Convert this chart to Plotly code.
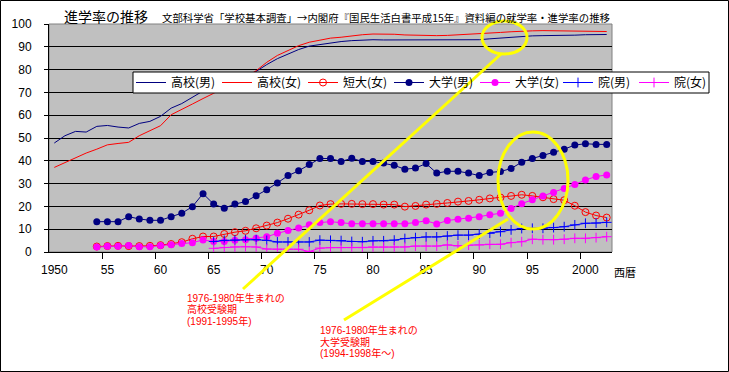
import plotly.graph_objects as go

YEARS = list(range(1950, 2003))
TICK_YEARS = [1950, 1955, 1960, 1965, 1970, 1975, 1980, 1985, 1990, 1995, 2000]
TICK_TEXT = ["1950", "55", "60", "65", "70", "75", "80", "85", "90", "95", "2000"]
NAMES = ["高校(男)", "高校(女)", "短大(女)", "大学(男)", "大学(女)", "院(男)", "院(女)"]

HS_MALE = [47.8, 51.0, 52.9, 52.6, 55.1, 55.5, 54.8, 54.4, 56.4, 57.3,
           59.5, 63.1, 65.1, 68.0, 70.6, 71.7, 73.5, 75.3, 77.0, 79.2,
           82.2, 84.8, 86.9, 88.8, 90.3, 91.0, 91.7, 92.3, 92.7, 93.0,
           93.1, 93.0, 93.0, 93.0, 92.9, 92.9, 92.9, 92.9, 92.9, 93.0,
           93.1, 93.5, 93.9, 94.3, 94.6, 94.8, 94.9, 94.9, 95.0, 95.1,
           95.3, 95.4, 95.4]
HS_FEMALE = [37.1, 39.3, 41.5, 43.4, 45.1, 47.0, 47.6, 48.1, 51.0, 53.2,
             55.4, 60.2, 62.4, 64.9, 67.3, 69.6, 72.3, 74.5, 76.7, 79.5,
             83.2, 86.2, 88.5, 90.5, 92.0, 92.9, 93.8, 94.2, 94.8, 95.3,
             95.6, 95.6, 95.5, 95.2, 95.0, 94.9, 94.9, 95.0, 95.2, 95.4,
             95.6, 96.0, 96.3, 96.6, 96.9, 97.0, 97.1, 97.0, 97.0, 97.0,
             96.8, 96.7, 96.7]
JC_FEMALE = [None] * 4 + [
    2.4, 2.6, 2.7, 2.6, 2.6, 2.7, 3.0, 3.5, 4.3, 5.8,
    6.8, 6.8, 7.9, 8.7, 9.3, 10.4, 11.6, 12.9, 14.6, 16.4,
    18.3, 20.4, 21.0, 21.1, 21.1, 21.0, 21.0, 20.8, 20.8, 19.9,
    20.2, 20.8, 21.1, 21.5, 22.1, 22.4, 22.9, 23.5, 23.9, 24.6,
    25.1, 24.6, 24.0, 23.2, 22.7, 20.3, 17.5, 16.0, 15.1]
UNIV_MALE = [None] * 4 + [
    13.3, 13.3, 13.3, 15.5, 14.5, 13.9, 13.9, 15.5, 17.0, 19.9,
    25.6, 21.0, 19.2, 21.0, 22.1, 24.7, 27.3, 30.3, 33.5, 35.6,
    38.4, 41.0, 41.0, 39.7, 41.1, 39.7, 39.7, 39.0, 38.0, 36.3,
    36.8, 38.8, 34.6, 35.4, 35.4, 34.6, 33.5, 34.9, 35.3, 36.6,
    39.4, 41.0, 42.3, 43.8, 45.1, 46.9, 47.5, 47.2, 47.2]
UNIV_FEMALE = [None] * 4 + [
    2.2, 2.5, 2.5, 2.8, 2.3, 2.3, 2.8, 3.2, 3.7, 4.1,
    5.3, 4.6, 4.6, 5.1, 5.4, 6.0, 6.7, 8.2, 9.4, 10.5,
    11.9, 12.9, 13.3, 12.9, 12.4, 12.4, 12.4, 12.4, 12.4, 12.4,
    12.9, 13.7, 12.3, 13.8, 14.4, 14.8, 15.5, 16.3, 17.0, 19.1,
    21.2, 22.9, 24.6, 26.1, 27.8, 29.6, 31.6, 33.1, 33.8]
GRAD_MALE = [None] * 15 + [
    4.6, 5.1, 5.2, 5.4, 5.4,
    5.1, 4.4, 4.4, 4.4, 4.4, 5.2, 5.1, 5.0, 4.6, 4.5,
    4.9, 4.9, 5.2, 5.9, 6.3, 6.6, 6.6, 7.0, 7.4, 7.4,
    7.8, 8.2, 8.9, 9.7, 10.3, 10.4, 10.4, 10.7, 11.1, 11.9,
    12.6, 12.7, 13.0]
GRAD_FEMALE = [None] * 15 + [
    1.6, 2.0, 2.2, 2.3, 2.2,
    1.3, 1.2, 1.2, 1.2, 0.2, 1.7, 1.9, 1.9, 1.9, 1.9,
    2.2, 2.2, 2.2, 2.2, 2.6, 2.6, 2.6, 3.1, 2.7, 3.0,
    3.1, 3.4, 3.4, 4.1, 4.5, 5.6, 5.4, 5.4, 5.6, 6.0,
    6.0, 6.3, 6.7]

# plot-area geometry in pixels (for placing decorations)
W, H = 729, 372
L, R, T, B = 49, 612, 24, 252


def px(x):
    return (x - L) / (R - L)


def py(y):
    return (B - y) / (B - T)


NAVY, RED, MAG, BLUE, YEL = "#000080", "#FF0000", "#FF00FF", "#0000FF", "#FFFF00"
JP = "Noto Sans CJK JP"
NOTEFONT = "Liberation Sans, Noto Sans CJK JP"
NUMFONT = "Liberation Sans Narrow, Liberation Sans"

fig = go.Figure()
styles = [
    (HS_MALE, dict(color=NAVY, width=1), None),
    (HS_FEMALE, dict(color=RED, width=1), None),
    (JC_FEMALE, dict(color=RED, width=1), dict(symbol="circle-open", size=7, color=RED, line=dict(width=1, color=RED))),
    (UNIV_MALE, dict(color=NAVY, width=1), dict(symbol="circle", size=7, color=NAVY)),
    (UNIV_FEMALE, dict(color=MAG, width=1), dict(symbol="circle", size=7, color=MAG)),
    (GRAD_MALE, dict(color=BLUE, width=1), dict(symbol="cross-thin", size=7, color=BLUE, line=dict(width=1, color=BLUE))),
    (GRAD_FEMALE, dict(color=MAG, width=1), dict(symbol="cross-thin", size=7, color=MAG, line=dict(width=1, color=MAG))),
]
for i, (name, (vals, line, marker)) in enumerate(zip(NAMES, styles)):
    fig.add_trace(go.Scatter(
        x=YEARS, y=vals, name=name, mode="lines+markers" if marker else "lines",
        line=line, marker=marker, connectgaps=False, hoverinfo="skip",
        legend="legend" if i < 5 else "legend2"))

shapes = [
    # plot-area frame (grey)
    dict(type="rect", xref="paper", yref="paper", x0=0, x1=1, y0=0, y1=1,
         line=dict(color="#808080", width=1), layer="below"),
    # outer figure border
    dict(type="rect", xref="paper", yref="paper", x0=px(0.5), x1=px(728.5), y0=py(0.5), y1=py(371.5),
         line=dict(color="black", width=1)),
    # legend box
    dict(type="rect", xref="paper", yref="paper", x0=px(133), x1=px(709), y0=py(72), y1=py(93),
         line=dict(color="black", width=1), fillcolor="white", layer="above"),
    # yellow highlights
    dict(type="circle", xref="paper", yref="paper", x0=px(482), x1=px(527), y0=py(21), y1=py(54),
         line=dict(color=YEL, width=3), layer="above"),
    dict(type="line", xref="paper", yref="paper", x0=px(501), y0=py(54), x1=px(243), y1=py(289),
         line=dict(color=YEL, width=3), layer="above"),
    dict(type="circle", xref="paper", yref="paper", x0=px(498), x1=px(568), y0=py(132), y1=py(229),
         line=dict(color=YEL, width=3), layer="above"),
    dict(type="line", xref="paper", yref="paper", x0=px(508), y0=py(219), x1=px(344), y1=py(320),
         line=dict(color=YEL, width=3), layer="above"),
]

annots = [
    dict(text="進学率の推移", x=px(62), y=py(16), font=dict(size=14, color="black", family=JP)),
    dict(text="文部科学省「学校基本調査」→内閣府『国民生活白書平成15年』資料編の就学率・進学率の推移",
         x=px(160), y=py(17), font=dict(size=10.4, color="black", family=JP)),
    dict(text="西暦", x=px(612), y=py(272), font=dict(size=11, color="black", family=JP)),
]
NOTE1 = ["1976-1980年生まれの", "高校受験期", "(1991-1995年)"]
NOTE2 = ["1976-1980年生まれの", "大学受験期", "(1994-1998年～)"]
for i, t in enumerate(NOTE1):
    annots.append(dict(text=t, x=px(185), y=py(297.5 + 11.5 * i), font=dict(size=10, color=RED, family=NOTEFONT)))
for i, t in enumerate(NOTE2):
    annots.append(dict(text=t, x=px(318), y=py(330 + 11.5 * i), font=dict(size=10, color=RED, family=NOTEFONT)))
for a in annots:
    a.update(xref="paper", yref="paper", xanchor="left", yanchor="middle", showarrow=False)

leg_common = dict(orientation="h", xref="container", yref="container", xanchor="left", yanchor="middle",
                  y=1 - 82.5 / H, bgcolor="rgba(0,0,0,0)", borderwidth=0,
                  font=dict(size=12, color="black", family=JP), itemwidth=30, tracegroupgap=0)

fig.update_layout(
    width=W, height=H,
    margin=dict(l=L, r=W - R, t=T, b=H - B, pad=0, autoexpand=False),
    paper_bgcolor="white", plot_bgcolor="#C0C0C0",
    showlegend=True,
    legend=dict(leg_common, x=131 / W, entrywidth=41),
    legend2=dict(leg_common, x=558 / W, entrywidth=31),
    shapes=shapes, annotations=annots,
    xaxis=dict(range=[1949.5, 2002.5], tickvals=TICK_YEARS, ticktext=TICK_TEXT,
               showgrid=False, zeroline=False, showline=True, linecolor="black", linewidth=1,
               ticks="", ticklabelstandoff=7, automargin=False,
               minor=dict(tickvals=[y + 4.5 for y in TICK_YEARS[:-1]], ticks="outside",
                          ticklen=6, tickcolor="black", tickwidth=1, showgrid=False),
               tickfont=dict(size=12, color="black", family=NUMFONT)),
    yaxis=dict(range=[0, 100], dtick=10, showgrid=True, gridcolor="black", gridwidth=1,
               zeroline=False, showline=True, linecolor="black", linewidth=1, automargin=False,
               ticks="outside", ticklen=4, tickcolor="black", ticklabelstandoff=10,
               tickfont=dict(size=12, color="black", family=NUMFONT)),
)

fig.write_html("out.html", config={"displayModeBar": False},
               post_script="document.body.style.margin='0';")
